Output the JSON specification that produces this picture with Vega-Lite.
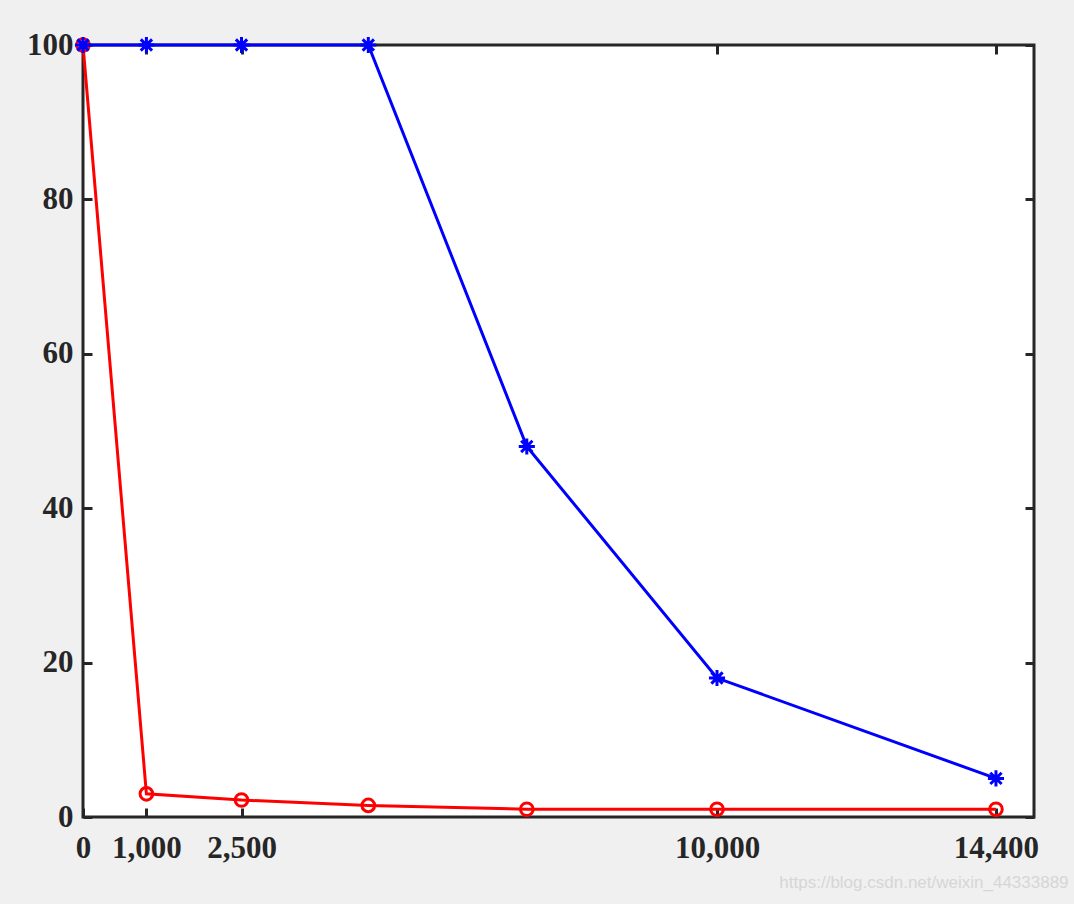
{
  "$schema": "https://vega.github.io/schema/vega-lite/v6.json",
  "width": 951,
  "height": 772,
  "autosize": {"type": "none"},
  "padding": {"left": 83, "top": 45, "right": 40, "bottom": 87},
  "background": "#f0f0f0",
  "config": {
    "view": {"fill": "white", "stroke": "#262626", "strokeWidth": 3},
    "axis": {
      "labelFont": "Liberation Serif",
      "labelFontWeight": "bold",
      "labelFontSize": 31,
      "labelColor": "#262626",
      "tickColor": "#262626",
      "tickWidth": 3,
      "tickSize": -9,
      "domain": false,
      "grid": false,
      "title": null,
      "labelFlush": false,
      "labelOverlap": false
    }
  },
  "title": {
    "text": "https://blog.csdn.net/weixin_44333889",
    "orient": "bottom",
    "anchor": "end",
    "font": "Liberation Sans",
    "fontSize": 17,
    "fontWeight": "normal",
    "color": "#d6d6d6",
    "offset": 12,
    "dx": 30
  },
  "data": {
    "values": [
      {"x": 0, "y": 100, "series": "red"},
      {"x": 1000, "y": 3, "series": "red"},
      {"x": 2500, "y": 2.2, "series": "red"},
      {"x": 4500, "y": 1.5, "series": "red"},
      {"x": 7000, "y": 1, "series": "red"},
      {"x": 10000, "y": 1, "series": "red"},
      {"x": 14400, "y": 1, "series": "red"},
      {"x": 0, "y": 100, "series": "blue"},
      {"x": 1000, "y": 100, "series": "blue"},
      {"x": 2500, "y": 100, "series": "blue"},
      {"x": 4500, "y": 100, "series": "blue"},
      {"x": 7000, "y": 48, "series": "blue"},
      {"x": 10000, "y": 18, "series": "blue"},
      {"x": 14400, "y": 5, "series": "blue"}
    ]
  },
  "layer": [
    {
      "transform": [{"filter": "datum.series === 'red'"}],
      "mark": {"type": "line", "color": "#ff0000", "strokeWidth": 3, "clip": false},
      "encoding": {
        "x": {
          "field": "x", "type": "quantitative",
          "scale": {"domain": [0, 15000], "nice": false, "zero": false},
          "axis": {"orient": "bottom", "values": [0, 1000, 2500, 10000, 14400], "format": ",.0f", "labelPadding": 25}
        },
        "y": {
          "field": "y", "type": "quantitative",
          "scale": {"domain": [0, 100], "nice": false},
          "axis": {"orient": "left", "values": [0, 20, 40, 60, 80, 100], "labelPadding": 19}
        }
      }
    },
    {
      "transform": [{"filter": "datum.series === 'red'"}],
      "mark": {"type": "point", "shape": "circle", "filled": false, "color": "#ff0000", "strokeWidth": 3, "size": 160, "opacity": 1, "clip": false},
      "encoding": {
        "x": {"field": "x", "type": "quantitative", "axis": {"orient": "top", "values": [0, 1000, 2500, 10000, 14400], "labels": false}},
        "y": {"field": "y", "type": "quantitative", "axis": {"orient": "right", "values": [0, 20, 40, 60, 80, 100], "labels": false}}
      }
    },
    {
      "transform": [{"filter": "datum.series === 'blue'"}],
      "mark": {"type": "line", "color": "#0000ff", "strokeWidth": 3, "clip": false},
      "encoding": {
        "x": {"field": "x", "type": "quantitative", "axis": null},
        "y": {"field": "y", "type": "quantitative", "axis": null}
      }
    },
    {
      "transform": [{"filter": "datum.series === 'blue'"}],
      "mark": {"type": "point", "shape": "M-1,0L1,0M0,-1L0,1M-0.7,-0.7L0.7,0.7M-0.7,0.7L0.7,-0.7", "filled": false, "color": "#0000ff", "strokeWidth": 3, "size": 260, "opacity": 1, "clip": false},
      "encoding": {
        "x": {"field": "x", "type": "quantitative", "axis": null},
        "y": {"field": "y", "type": "quantitative", "axis": null}
      }
    }
  ],
  "resolve": {"axis": {"x": "independent", "y": "independent"}}
}
